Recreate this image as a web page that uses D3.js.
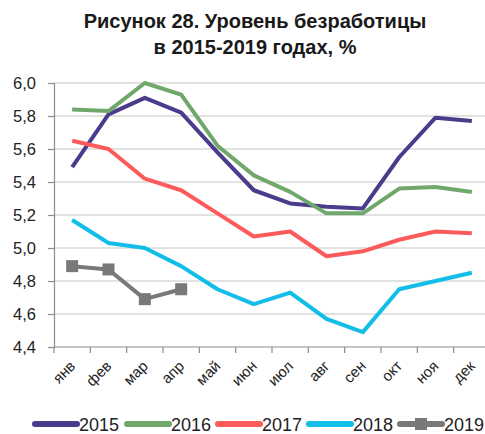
<!DOCTYPE html>
<html>
<head>
<meta charset="utf-8">
<script src="https://cdn.jsdelivr.net/npm/d3@7"></script>
<style>
  html, body { margin: 0; padding: 0; background: #fff; }
  svg { display: block; font-family: "Liberation Sans", Arial, sans-serif; }
</style>
</head>
<body>
<div id="chart"></div>
<script>
// Months (x categories)
const months = ["янв", "фев", "мар", "апр", "май", "июн", "июл", "авг", "сен", "окт", "ноя", "дек"];

// Series values, % unemployment
const y2015 = [5.49, 5.81, 5.91, 5.82, 5.58, 5.35, 5.27, 5.25, 5.24, 5.55, 5.79, 5.77];
const y2016 = [5.84, 5.83, 6.00, 5.93, 5.62, 5.44, 5.34, 5.21, 5.21, 5.36, 5.37, 5.34];
const y2017 = [5.65, 5.60, 5.42, 5.35, 5.21, 5.07, 5.10, 4.95, 4.98, 5.05, 5.10, 5.09];
const y2018 = [5.17, 5.03, 5.00, 4.89, 4.75, 4.66, 4.73, 4.57, 4.49, 4.75, 4.80, 4.85];
const y2019 = [4.89, 4.87, 4.69, 4.75];

const yTicks = [4.4, 4.6, 4.8, 5.0, 5.2, 5.4, 5.6, 5.8, 6.0];

const series = [
    { name: "2015", values: y2015, color: "#4a3b8b", marker: false },
    { name: "2016", values: y2016, color: "#70a86c", marker: false },
    { name: "2017", values: y2017, color: "#fd5b5b", marker: false },
    { name: "2018", values: y2018, color: "#12bde8", marker: false },
    { name: "2019", values: y2019, color: "#797979", marker: true }
];

const width = 485, height = 434;
const margin = { top: 83, right: -5, bottom: 87, left: 54 };
const plotWidth = width - margin.left - margin.right;
const plotHeight = height - margin.top - margin.bottom;

const svg = d3.select("#chart").append("svg")
    .attr("width", width)
    .attr("height", height);

// Title
const title = svg.append("text")
    .attr("x", 255)
    .attr("y", 28)
    .attr("text-anchor", "middle")
    .style("font-size", "20px")
    .style("font-weight", "bold")
    .style("fill", "#1a1a1a");
title.append("tspan").attr("x", 255).text("Рисунок 28. Уровень безработицы");
title.append("tspan").attr("x", 255).attr("dy", 26).text("в 2015-2019 годах, %");

const xScale = d3.scaleBand()
    .domain(months)
    .range([0, plotWidth])
    .padding(0);

const yScale = d3.scaleLinear()
    .domain([4.4, 6.0])
    .range([plotHeight, 0]);

const plot = svg.append("g")
    .attr("transform", `translate(${margin.left},${margin.top})`);

// Gridlines
plot.append("g")
    .selectAll("line")
    .data(yTicks.slice(1))
    .join("line")
    .attr("x1", 0)
    .attr("x2", plotWidth)
    .attr("y1", d => yScale(d))
    .attr("y2", d => yScale(d))
    .attr("stroke", "#d9d9d9")
    .attr("stroke-width", 1.5);

// Y axis
const yAxis = d3.axisLeft(yScale)
    .tickValues(yTicks)
    .tickSize(6)
    .tickPadding(12)
    .tickFormat(d => d3.format(".1f")(d).replace(".", ","));

const yg = plot.append("g").call(yAxis);
yg.select(".domain").attr("stroke", "#8c8c8c").attr("stroke-width", 1.2);
yg.selectAll(".tick line").attr("stroke", "#8c8c8c").attr("stroke-width", 1.2);
yg.selectAll(".tick text")
    .style("font-size", "16.5px")
    .style("fill", "#222")
    .attr("font-family", null);

// X axis: baseline + ticks between categories
const xg = plot.append("g").attr("transform", `translate(0,${plotHeight})`);
xg.append("line")
    .attr("x1", 0).attr("x2", plotWidth)
    .attr("stroke", "#8c8c8c").attr("stroke-width", 1.2);
xg.selectAll(".xt")
    .data(months.concat([null]))
    .join("line")
    .attr("class", "xt")
    .attr("x1", (d, i) => i < months.length ? xScale(d) : plotWidth)
    .attr("x2", (d, i) => i < months.length ? xScale(d) : plotWidth)
    .attr("y1", 0).attr("y2", 6)
    .attr("stroke", "#8c8c8c").attr("stroke-width", 1.2);
xg.selectAll(".xl")
    .data(months)
    .join("text")
    .attr("class", "xl")
    .attr("text-anchor", "end")
    .attr("transform", d => `translate(${xScale(d) + xScale.bandwidth() / 2 + 4},${20}) rotate(-45)`)
    .style("font-size", "15px")
    .style("fill", "#222")
    .text(d => d);

// Lines
const line = d3.line()
    .x((d, i) => xScale(months[i]) + xScale.bandwidth() / 2)
    .y(d => yScale(d));

series.forEach(s => {
    plot.append("path")
        .datum(s.values)
        .attr("fill", "none")
        .attr("stroke", s.color)
        .attr("stroke-width", 4)
        .attr("stroke-linejoin", "round")
        .attr("d", line);
    if (s.marker) {
        plot.selectAll(".mk")
            .data(s.values)
            .join("rect")
            .attr("class", "mk")
            .attr("x", (d, i) => xScale(months[i]) + xScale.bandwidth() / 2 - 6)
            .attr("y", d => yScale(d) - 6)
            .attr("width", 12)
            .attr("height", 12)
            .attr("fill", s.color);
    }
});

// Legend
const legendX = [33, 125, 216, 307, 398];
const legend = svg.append("g").attr("transform", "translate(0,424)");
series.forEach((s, i) => {
    const g = legend.append("g").attr("transform", `translate(${legendX[i]},0)`);
    g.append("line")
        .attr("x1", 2).attr("x2", 44)
        .attr("stroke", s.color)
        .attr("stroke-width", 6)
        .attr("stroke-linecap", "round");
    if (s.marker) {
        g.append("rect")
            .attr("x", 17).attr("y", -6)
            .attr("width", 12).attr("height", 12)
            .attr("fill", s.color);
    }
    g.append("text")
        .attr("x", 46)
        .attr("y", 7)
        .style("font-size", "18px")
        .style("fill", "#222")
        .text(s.name);
});
</script>
</body>
</html>
